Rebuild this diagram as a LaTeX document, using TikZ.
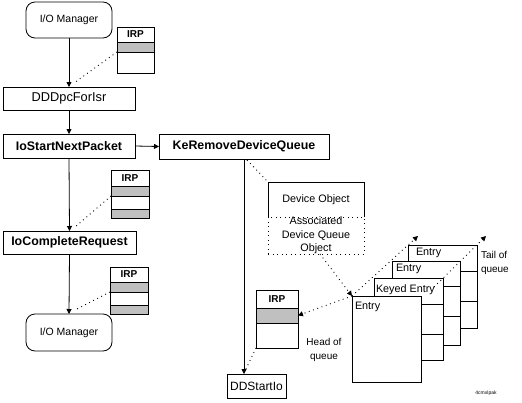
\documentclass[tikz,border=0pt]{standalone}
\usepackage{fontspec}
\setmainfont{Liberation Sans}
\usetikzlibrary{arrows.meta}
\definecolor{irpgray}{HTML}{C0C0C0}
\begin{document}
\begin{tikzpicture}[x=1pt,y=-1pt,
  box/.style={draw, line width=0.8pt, inner sep=0pt, outer sep=0pt, anchor=north west, fill=white},
  wh/.style 2 args={minimum width=#1, minimum height=#2},
  lbl/.style={font=\fontsize{10.8}{13.5}\selectfont},
  iom/.style={font=\fontsize{10.5}{13}\selectfont},
  small/.style={font=\fontsize{10}{14}\selectfont},
  big/.style={font=\fontsize{12.8}{14}\selectfont},
  bigb/.style={font=\bfseries\fontsize{12.4}{14}\selectfont},
  irpb/.style={font=\bfseries\fontsize{10}{12}\selectfont},
  arr/.style={line width=0.8pt, -{Triangle[length=5pt,width=5pt]}},
  dotl/.style={line width=0.9pt, dash pattern=on 0.9pt off 3.6pt},
  dotarr/.style={dotl, -{Triangle[length=5pt,width=5pt]}},
  txt/.style={inner sep=0pt, outer sep=0pt}]
\useasboundingbox (0,0) rectangle (522,402);
\fill[white] (0,0) rectangle (522,402);

% left column
\node[box, wh={86}{36}, rounded corners=9pt, iom] (io1) at (26,2) {I/O Manager};
\node[box, wh={132}{23}, big] (ddd) at (3,87) {DDDpcForIsr};
\node[box, wh={132}{24}, bigb] (ios) at (3,134) {IoStartNextPacket};
\node[box, wh={133}{23}, bigb] (ioc) at (3,231) {IoCompleteRequest};
\node[box, wh={86}{37}, rounded corners=9pt, iom] (io2) at (26,314) {I/O Manager};

% IRP boxes
\node[box, wh={37}{15}, irpb] (irpA) at (117,27) {IRP};
\node[box, wh={37}{10}, fill=irpgray] (irpA1) at (117,42) {};
\node[box, wh={37}{21}] (irpA2) at (117,52) {};

\node[box, wh={38}{16}, irpb] (irpB) at (111,170) {IRP};
\node[box, wh={38}{10}, fill=irpgray] (irpB1) at (111,186) {};
\node[box, wh={38}{13}] (irpB2) at (111,196) {};
\node[box, wh={38}{9}, fill=irpgray] (irpB3) at (111,209) {};

\node[box, wh={38}{15}, irpb] (irpC) at (110,267) {IRP};
\node[box, wh={38}{10}, fill=irpgray] (irpC1) at (110,282) {};
\node[box, wh={38}{13}] (irpC2) at (110,292) {};
\node[box, wh={38}{9}, fill=irpgray] (irpC3) at (110,305) {};

\node[box, wh={42}{18}, irpb] (irpD) at (256,290) {IRP};
\node[box, wh={42}{15}, fill=irpgray] (irpD1) at (256,308) {};
\node[box, wh={42}{25}] (irpD2) at (256,323) {};

% middle
\node[box, wh={170}{25}, bigb] (ke) at (159,134) {KeRemoveDeviceQueue};
\node[box, wh={59}{24}, font=\fontsize{12}{14}\selectfont] (dds) at (227,374) {DDStartIo};
\node[anchor=north west, inner sep=0pt, outer sep=0pt, wh={96}{35}, lbl] (dev) at (268,182) {Device Object};
\draw[line width=0.8pt] (dev.south west) -- (dev.north west) -- (dev.north east) -- (dev.south east);
\node[anchor=north west, inner sep=0pt, outer sep=0pt, wh={96}{36}, lbl, align=center, draw, dotl] (dq) at (268,217) {Associated\\Device Queue\\Object};

% entries (back to front)
\node[box, wh={69}{83}] (e4) at (408,245) {};
\draw[line width=0.8pt] (408,271) -- (477,271) (408,301) -- (477,301);
\node[txt, lbl, anchor=west] (t4) at (416,253) {Entry};
\node[box, wh={68}{84}] (e3) at (392,261) {};
\draw[line width=0.8pt] (392,286) -- (460,286) (392,316) -- (460,316);
\node[txt, lbl, anchor=west] (t3) at (396,269) {Entry};
\node[box, wh={69}{82}] (e2) at (374,278) {};
\draw[line width=0.8pt] (374,304) -- (443,304) (374,334) -- (443,334);
\node[txt, lbl, anchor=west] (t2) at (376,290) {Keyed Entry};
\node[box, wh={69}{86}] (e1) at (352,296) {};
\node[txt, lbl, anchor=west] (t1) at (355,307) {Entry};

% labels
\node[txt, small, align=center] (head) at (324,350) {Head of\\queue};
\node[txt, small, align=left, anchor=west] (tail) at (481,263) {Tail of\\queue};
\node[txt, font=\fontsize{5}{6}\selectfont] (fig) at (486,393) {4cmxlpak};

% solid connectors
\draw[arr] (io1.south) -- (ddd.north);
\draw[arr] (ddd.south) -- (ios.north);
\draw[arr] (ios.east) -- (ke.west);
\draw[arr] (ios.south) -- (ioc.north);
\draw[arr] (ioc.south) -- (io2.north);
\draw[arr] (ke.south) -- (ke.south |- dds.north);

% dotted connectors
\coordinate (cA) at (74,83);
\coordinate (cB) at (75,227);
\coordinate (cC) at (75,310);
\coordinate (cK) at (247,160);
\coordinate (cD) at (245,371);
\coordinate (cT1) at (418,236);
\coordinate (cS2) at (434,287);
\coordinate (cT2) at (486,236);
\draw[dotl] (irpA1.south west) -- (cA);
\draw[dotl] (irpB1.south west) -- (cB);
\draw[dotl] (irpC1.south west) -- (cC);
\draw[dotl] (cK) -- (dev.north west);
\draw[dotarr] ([xshift=4pt]dq.south) -- (e1.north west);
\draw[dotarr] (e1.north west) -- (irpD1.east);
\draw[dotl] (irpD2.south west) -- (cD);
\draw[dotarr] (e1.north west) -- (cT1);
\draw[dotarr] (cS2) -- (cT2);
\end{tikzpicture}
\end{document}
